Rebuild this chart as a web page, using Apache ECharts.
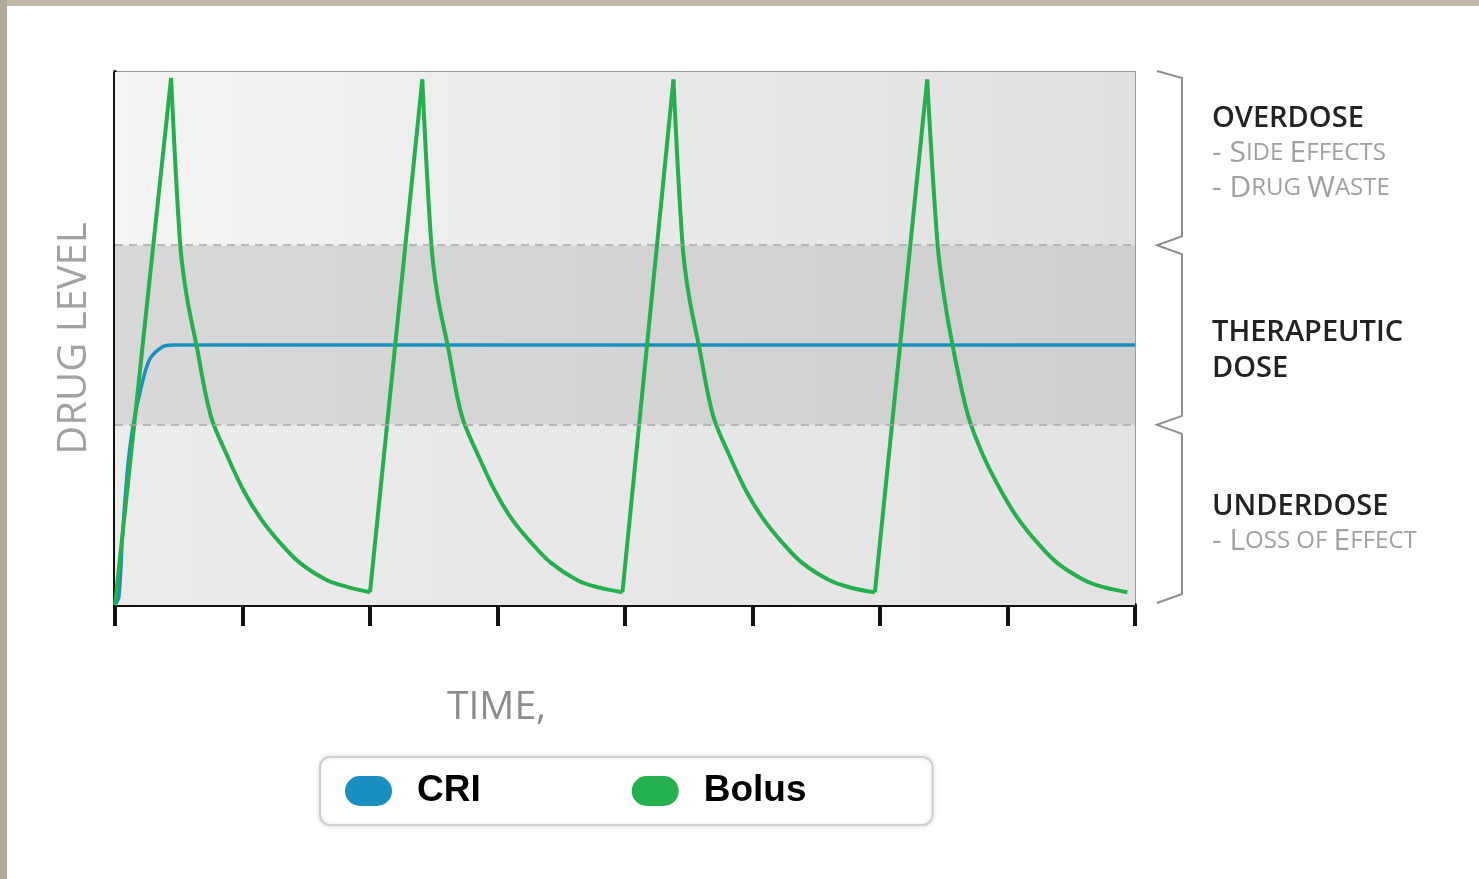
<!DOCTYPE html>
<html>
<head>
<meta charset="utf-8">
<script src="https://cdn.jsdelivr.net/npm/echarts@6/dist/echarts.min.js"></script>
<style>
html,body{margin:0;padding:0;background:#fff;}
#chart{width:1479px;height:879px;}
</style>
</head>
<body>
<div id="chart"></div>
<script>
// ---- data (time in tick units 0..8, drug level 0..100) ----
const timeTicks = [0, 1, 2, 3, 4, 5, 6, 7, 8];
const bandEdges = [0, 33.8, 67.5, 100];          // underdose | therapeutic | overdose
const criTime  = [0, 0.03, 0.06, 0.10, 0.14, 0.20, 0.27, 0.37, 0.45, 8];
const criLevel = [0, 1.5, 13.5, 25.9, 33.4, 40.3, 46.0, 48.4, 48.8, 48.8];
const bolusTime = [
  0, 0.44, 0.51, 0.56, 0.64, 0.75, 0.88, 1.01, 1.14, 1.29, 1.45, 1.66, 1.82, 2.00,
  2.41, 2.48, 2.53, 2.61, 2.72, 2.85, 2.98, 3.11, 3.26, 3.42, 3.63, 3.79, 3.98,
  4.38, 4.45, 4.50, 4.58, 4.69, 4.82, 4.95, 5.08, 5.23, 5.39, 5.60, 5.78, 5.96,
  6.37, 6.45, 6.50, 6.57, 6.69, 6.81, 6.95, 7.08, 7.23, 7.39, 7.60, 7.76, 7.94
];
const bolusLevel = [
  0, 98.9, 68.1, 58.3, 48.6, 35.6, 28.0, 21.4, 16.3, 11.8, 7.9, 4.7, 3.4, 2.4,
  98.6, 68.0, 58.0, 48.6, 35.5, 28.0, 21.4, 16.2, 11.8, 7.9, 4.6, 3.3, 2.4,
  98.6, 68.0, 58.2, 48.6, 35.6, 28.0, 21.4, 16.3, 11.8, 7.9, 4.7, 3.2, 2.4,
  98.6, 68.1, 58.3, 48.6, 35.6, 28.0, 21.4, 16.3, 11.8, 7.9, 4.7, 3.3, 2.4
];
const seriesNames = ['CRI', 'Bolus'];
const yAxisTitle = 'DRUG LEVEL';
const xAxisTitle = 'TIME,';

const zip = (a, b) => a.map((v, i) => [v, b[i]]);
const pill = 'path://M15,0 L32,0 A15,15 0 0 1 32,30 L15,30 A15,15 0 0 1 15,0 Z';
const BLUE = '#1a8fc0', GREEN = '#25b04f';

// split bolus into straight rises (trough->peak) and smooth decays (peak->trough)
const bolusPts = zip(bolusTime, bolusLevel);
const peakIdx = [];
for (let i = 1; i < bolusPts.length - 1; i++) {
  if (bolusLevel[i] > bolusLevel[i - 1] && bolusLevel[i] > bolusLevel[i + 1]) peakIdx.push(i);
}
const rises = [], decays = [];
let start = 0;
peakIdx.forEach((p, k) => {
  rises.push(bolusPts.slice(start, p + 1));
  const end = k + 1 < peakIdx.length ? peakIdx[k + 1] - 1 : bolusPts.length - 1;
  decays.push(bolusPts.slice(p, end + 1));
  start = end;
});

const chart = echarts.init(document.getElementById('chart'), null, {renderer: 'canvas'});

const grad = (a, b) => ({type: 'linear', x: 0, y: 0, x2: 1, y2: 0,
  colorStops: [{offset: 0, color: a}, {offset: 1, color: b}]});

const bolusSeries = [];
rises.forEach(d => bolusSeries.push({
  name: seriesNames[1], type: 'line', symbol: 'none', data: d, z: 4,
  itemStyle: {color: GREEN}, lineStyle: {color: GREEN, width: 4}
}));
decays.forEach(d => bolusSeries.push({
  name: seriesNames[1], type: 'line', symbol: 'none', data: d, z: 4,
  smooth: 0.35,
  itemStyle: {color: GREEN}, lineStyle: {color: GREEN, width: 4}
}));

const option = {
  backgroundColor: '#ffffff',
  animation: false,
  grid: {left: 115, right: 344, top: 72, bottom: 274, show: true,
         borderColor: '#9a9a9a', borderWidth: 2, backgroundColor: 'transparent'},
  xAxis: {
    type: 'value', min: timeTicks[0], max: timeTicks[timeTicks.length - 1], interval: 1,
    axisLine: {show: true, onZero: false, lineStyle: {color: '#111', width: 4}},
    axisTick: {show: true, length: 21, lineStyle: {color: '#111', width: 4}},
    axisLabel: {show: false}, splitLine: {show: false}
  },
  yAxis: {
    type: 'value', min: bandEdges[0], max: bandEdges[3],
    name: yAxisTitle, nameLocation: 'middle', nameRotate: 90, nameGap: 20,
    nameTextStyle: {color: '#a2a2a2', fontSize: 40, fontFamily: 'Open Sans'},
    axisLine: {show: true, lineStyle: {color: '#111', width: 4}},
    axisTick: {show: false}, axisLabel: {show: false}, splitLine: {show: false}
  },
  legend: {
    data: seriesNames, left: 320, top: 757, orient: 'horizontal',
    icon: pill,
    padding: [14, 126, 14, 25], itemGap: 151, itemWidth: 47, itemHeight: 30,
    backgroundColor: '#ffffff', borderColor: '#cfcfcf', borderWidth: 2, borderRadius: 10,
    shadowColor: 'rgba(0,0,0,0.12)', shadowBlur: 4,
    selectedMode: false,
    textStyle: {color: '#000', fontSize: 37, fontWeight: 'bold', fontFamily: 'Liberation Sans',
                lineHeight: 40, padding: [0, 0, 0, 20]}
  },
  series: [
    {
      name: seriesNames[0], type: 'line', symbol: 'none',
      data: zip(criTime, criLevel), z: 3,
      itemStyle: {color: BLUE},
      lineStyle: {color: BLUE, width: 3.5},
      smooth: 0.3,
      markArea: {
        silent: true,
        data: [
          [{yAxis: bandEdges[0], itemStyle: {color: grad('#ececec', '#e3e3e3')}}, {yAxis: bandEdges[1]}],
          [{yAxis: bandEdges[1], itemStyle: {color: grad('#d8d8d8', '#cfcfcf')}}, {yAxis: bandEdges[2]}],
          [{yAxis: bandEdges[2], itemStyle: {color: grad('#f4f4f4', '#e0e0e0')}}, {yAxis: bandEdges[3]}]
        ]
      },
      markLine: {
        silent: true, symbol: 'none', label: {show: false},
        lineStyle: {color: '#a8a8a8', type: [8, 6], width: 1.5},
        data: [{yAxis: bandEdges[1]}, {yAxis: bandEdges[2]}]
      }
    }
  ].concat(bolusSeries)
};
chart.setOption(option);

// ---- annotations (braces + zone labels + time label + frame) ----
function yPx(v) { return chart.convertToPixel({yAxisIndex: 0}, v); }
const xRight = chart.convertToPixel({xAxisIndex: 0}, timeTicks[timeTicks.length - 1]);
const bx0 = xRight + 22, bx1 = xRight + 47;
const yTop = yPx(bandEdges[3]), yB1 = yPx(bandEdges[2]), yB2 = yPx(bandEdges[1]), yBot = yPx(bandEdges[0]);
const bracePts = [
  [bx0, yTop - 1], [bx1, yTop + 6], [bx1, yB1 - 9], [bx0, yB1],
  [bx1, yB1 + 9], [bx1, yB2 - 9], [bx0, yB2],
  [bx1, yB2 + 9], [bx1, yBot - 11], [bx0, yBot - 2]
];
const tx = xRight + 77;
const rich = {
  B: {fontSize: 30, fontFamily: 'Open Sans', fill: '#a0a0a0'},
  s: {fontSize: 24, fontFamily: 'Open Sans', fill: '#a0a0a0'}
};
function head(txt, y) {
  return {type: 'text', left: tx, top: y, style: {text: txt, fontSize: 29, fontWeight: 600,
    fontFamily: 'Open Sans', fill: '#222'}};
}
function sub(txt, y) {
  return {type: 'text', left: tx, top: y, style: {text: txt, rich: rich}};
}
chart.setOption({
  graphic: [
    {type: 'rect', left: 0, top: 0, shape: {width: 1479, height: 6}, style: {fill: '#c2baa8'}, z: 100},
    {type: 'rect', left: 0, top: 0, shape: {width: 7, height: 879}, style: {fill: '#b3ab9a'}, z: 100},
    {type: 'polyline', shape: {points: bracePts}, style: {stroke: '#8f8f8f', lineWidth: 2, fill: null}},
    head('OVERDOSE', 104),
    sub('{B|- S}{s|IDE }{B|E}{s|FFECTS}', 138),
    sub('{B|- D}{s|RUG }{B|W}{s|ASTE}', 173),
    head('THERAPEUTIC', 318),
    head('DOSE', 354),
    head('UNDERDOSE', 492),
    sub('{B|- L}{s|OSS OF }{B|E}{s|FFECT}', 526),
    {type: 'text', left: 447, top: 688, style: {text: xAxisTitle, fontSize: 39,
      fontFamily: 'Open Sans', fill: '#8c8c8c'}}
  ]
});
</script>
</body>
</html>
